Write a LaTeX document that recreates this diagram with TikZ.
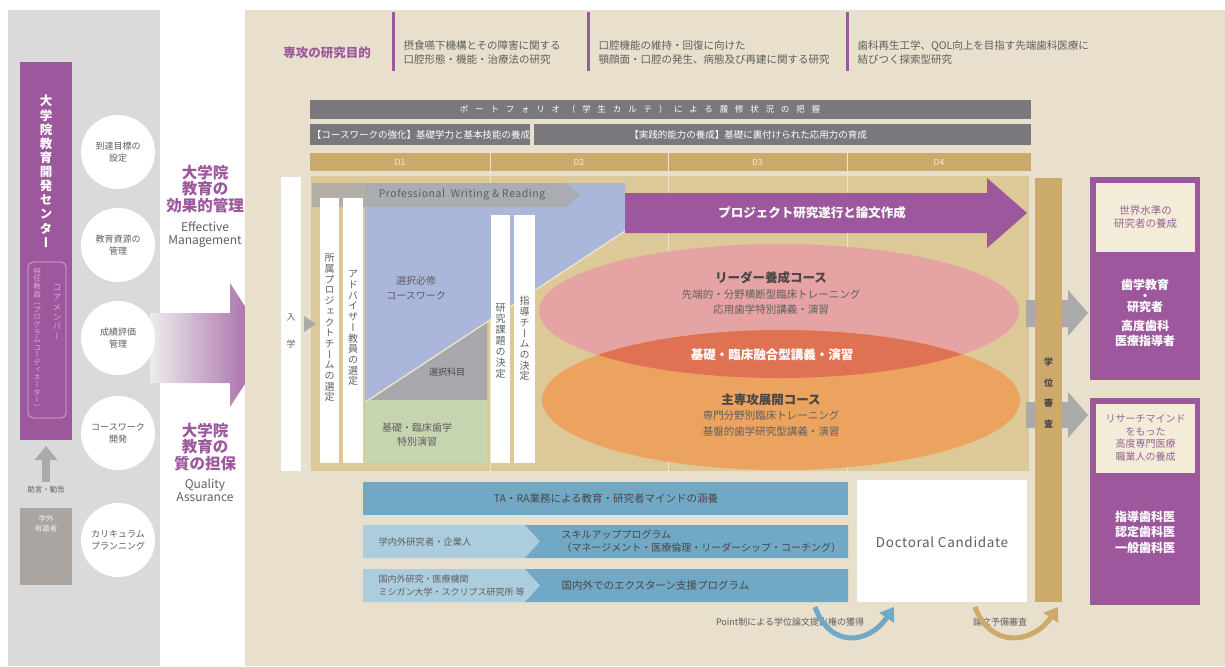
\documentclass[tikz,border=0pt]{standalone}
\usepackage{fontspec}
\setmainfont{Noto Sans CJK JP}
\newfontfamily\jpv{Noto Sans CJK JP}[RawFeature=+vert]
\usetikzlibrary{arrows.meta}
\definecolor{panelgray}{RGB}{218,218,218}
\definecolor{purp}{RGB}{157,88,157}
\definecolor{lpurp}{RGB}{215,175,215}
\definecolor{beige}{RGB}{232,223,204}
\definecolor{dgray}{RGB}{122,120,124}
\definecolor{gold}{RGB}{204,170,108}
\definecolor{itan}{RGB}{221,200,152}
\definecolor{lav}{RGB}{170,182,218}
\definecolor{tri}{RGB}{168,168,172}
\definecolor{sage}{RGB}{198,212,176}
\definecolor{pinkE}{RGB}{229,164,163}
\definecolor{orangeE}{RGB}{236,163,96}
\definecolor{redE}{RGB}{223,114,82}
\definecolor{steel}{RGB}{112,168,197}
\definecolor{lsteel}{RGB}{172,205,222}
\definecolor{agray}{RGB}{170,170,170}
\definecolor{cream}{RGB}{243,236,216}
\definecolor{txt}{RGB}{95,95,95}
\definecolor{dtxt}{RGB}{75,70,70}
\definecolor{extg}{RGB}{170,165,160}
\definecolor{ptxt}{RGB}{150,100,150}
\ExplSyntaxOn
\NewDocumentCommand\vstack{ O{1.1} m }
  {
    \vbox:n
      {
        \offinterlineskip
        \tl_map_inline:nn {#2}
          { \hbox_to_wd:nn {1.2em} { \hss \rule[-0.2em]{0pt}{#1em} ##1 \hss } }
      }
  }
\ExplSyntaxOff
\tikzset{
  blk/.style={inner sep=0pt, outer sep=0pt, draw=none},
  fs/.style 2 args={font=\fontsize{#1}{#2}\selectfont},
  fsb/.style 2 args={font=\fontsize{#1}{#2}\selectfont\bfseries},
  vtext/.style={font=\jpv\fontsize{#1}{#1}\selectfont, inner sep=0pt},
  circ/.style={circle, fill=white, minimum size=74pt, inner sep=0pt, fs={9}{12}, text=txt, align=center},
}
\begin{document}
\begin{tikzpicture}[x=1pt,y=-1pt]
\useasboundingbox (0,0) rectangle (1225,666);
\fill[white] (0,0) rectangle (1225,666);
% ---------- left panel
\fill[panelgray] (8,10) rectangle (160,666);
\node[blk, fill=purp, minimum width=52, minimum height=378] (ctr) at (46,251) {};
\node[vtext=12.5, text=white] (ctrname) at (46,172) {\bfseries\vstack[1.13]{大学院教育開発センター}};
\draw[lpurp, rounded corners=5, line width=0.8] (28,262) rectangle (66,418);
\node[vtext=8.5, text=lpurp] (core) at (57,312) {\vstack[1.15]{コアメンバー}};
\node[vtext=7.5, text=lpurp] (coord) at (37,340) {\vstack[1.0]{特任教員（プログラムコーディネーター）}};
\node[blk, fill=extg, minimum width=52, minimum height=77] (ext) at (46,546.5) {};
\node[fs={7.5}{10}, text=white!85!extg, align=center] (exttxt) at (46,524) {学外\\有識者};
\node[fs={7.5}{9}, text=txt] (advice) at (46,490) {助言・勧告};
\draw[agray, line width=8pt, shorten <=1pt, shorten >=6pt, -{Triangle[width=22pt,length=14pt]}] (advice.north) -- (ctr.south);
% gradient arrow
\shade[left color=panelgray!50!white, right color=purp] (150,313) -- (230,313) -- (230,283) -- (270,345) -- (230,407) -- (230,383) -- (150,383) -- cycle;
\node[circ] (c1) at (118,152) {到達目標の\\設定};
\node[circ] (c2) at (118,245) {教育資源の\\管理};
\node[circ] (c3) at (118,338) {成績評価\\管理};
\node[circ] (c4) at (118,433) {コースワーク\\開発};
\node[circ] (c5) at (118,540) {カリキュラム\\プランニング};
\node[fsb={15.5}{16.5}, text=purp, align=center] (emj) at (205,189) {大学院\\教育の\\効果的管理};
\node[fs={12}{13}, text=txt, align=center] (emen) at (205,235) {Effective\\Management};
\node[fsb={15.5}{16.5}, text=purp, align=center] (qaj) at (205,447) {大学院\\教育の\\質の担保};
\node[fs={12}{13}, text=txt, align=center] (qaen) at (205,490) {Quality\\Assurance};
% ---------- main panel
\fill[beige] (245,10) rectangle (1225,666);
\node[fsb={12.5}{14}, text=purp] (goal) at (327,53) {専攻の研究目的};
\draw[purp, line width=3pt] (393,12) -- (393,71);
\draw[purp, line width=3pt] (588,12) -- (588,71);
\draw[purp, line width=3pt] (847,12) -- (847,71);
\node[fs={10.5}{14}, text=txt, align=left, anchor=west] (g1) at (400,53) {摂食嚥下機構とその障害に関する\\口腔形態・機能・治療法の研究};
\node[fs={10.5}{14}, text=txt, align=left, anchor=west] (g2) at (595,53) {口腔機能の維持・回復に向けた\\顎顔面・口腔の発生、病態及び再建に関する研究};
\node[fs={10.5}{14}, text=txt, align=left, anchor=west] (g3) at (854,53) {歯科再生工学、QOL向上を目指す先端歯科医療に\\結びつく探索型研究};
% bars
\node[blk, fill=dgray, minimum width=721, minimum height=19] (port) at (670.5,109.5) {};
\node[fs={8.5}{9}, text=white] (porttxt) at (640,109.5) {\addfontfeature{LetterSpace=80}ポートフォリオ（学生カルテ）による履修状況の把握};
\node[blk, fill=dgray, minimum width=220, minimum height=21] (cw) at (420,134.5) {};
\node[fs={9.5}{10}, text=white] (cwtxt) at (421,134.5) {【コースワークの強化】基礎学力と基本技能の養成};
\node[blk, fill=dgray, minimum width=497, minimum height=21] (pr) at (782.5,134.5) {};
\node[fs={9.5}{10}, text=white] (prtxt) at (748,134.5) {【実践的能力の養成】基礎に裏付けられた応用力の育成};
\foreach \n/\a/\b in {1/310/490,2/490/668,3/668/847,4/847/1031}
  \node[blk, fill=gold, minimum width={\b-\a}, minimum height=18, fs={8.5}{9}, text=cream] (D\n) at ({(\a+\b)/2},162) {D\n};
\fill[itan] (311,176) rectangle (1029,471);
\foreach \x in {490,668,847} \draw[cream!80!itan, line width=1pt] (\x,153) -- (\x,471);
% entry
\node[blk, fill=white, minimum width=20, minimum height=294] (entry) at (291,324) {};
\node[vtext=9, text=txt] (entrytxt) at (291,322) {\vstack[3.0]{入学}};
\fill[agray] (304,316) -- (316,324) -- (304,332) -- cycle;
% coursework area
\fill[lav] (365,183) -- (625,183) -- (625,231) -- (370,400) -- (365,400) -- cycle;
\fill[tri] (370,400) -- (487,322.5) -- (487,400) -- cycle;
\fill[sage] (365,400) rectangle (487,463);
\draw[cream!80!itan, line width=1.3pt] (367,401) -- (625,231);
\fill[agray, opacity=0.82] (312,183) -- (566,183) -- (580,195) -- (566,207) -- (312,207) -- cycle;
\node[fs={10.5}{11}, text=txt] (pwr) at (462,195) {\addfontfeature{LetterSpace=5}Professional\ \ Writing \& Reading};
\node[blk, fill=white, minimum width=19, minimum height=265] (s1) at (329.5,330.5) {};
\node[vtext=10, text=txt] (s1t) at (329.5,328) {\vstack[1.07]{所属プロジェクトチームの選定}};
\node[blk, fill=white, minimum width=20, minimum height=265] (s2) at (353,330.5) {};
\node[vtext=10, text=txt] (s2t) at (353,328) {\vstack[1.07]{アドバイザー教員の選定}};
\node[blk, fill=white, minimum width=19, minimum height=248] (s3) at (500.5,339) {};
\node[vtext=10, text=txt] (s3t) at (500.5,341) {\vstack[1.1]{研究課題の決定}};
\node[blk, fill=white, minimum width=21, minimum height=248] (s4) at (524.5,339) {};
\node[vtext=10, text=txt] (s4t) at (524.5,339) {\vstack[1.07]{指導チームの決定}};
\node[fs={10}{15}, text=txt, align=center] (req) at (416,288) {選択必修\\コースワーク};
\node[fs={9}{10}, text=dtxt] (elec) at (447,372) {選択科目};
\node[fs={10}{14}, text=txt, align=center] (basic) at (417,435) {基礎・臨床歯学\\特別演習};
% project arrow
\fill[purp] (625,193) -- (987,193) -- (987,178) -- (1027,213) -- (987,248) -- (987,233) -- (625,233) -- cycle;
\node[fsb={12.5}{13}, text=white] (proj) at (812,213) {プロジェクト研究遂行と論文作成};
% ellipses
\fill[pinkE] (779,311) ellipse [x radius=240, y radius=67];
\fill[orangeE] (781,400) ellipse [x radius=239, y radius=70];
\begin{scope}
  \clip (779,311) ellipse [x radius=240, y radius=67];
  \fill[redE] (781,400) ellipse [x radius=239, y radius=70];
\end{scope}
\node[fsb={12.5}{13}, text=dtxt] (lead) at (771,278) {リーダー養成コース};
\node[fs={10.5}{15}, text=txt, align=center] (lead2) at (771,302) {先端的・分野横断型臨床トレーニング\\応用歯学特別講義・演習};
\node[fsb={12.5}{13}, text=white] (fuse) at (772,355) {基礎・臨床融合型講義・演習};
\node[fsb={12.5}{13}, text=dtxt] (major) at (771,400) {主専攻展開コース};
\node[fs={10.5}{16}, text=txt, align=center] (major2) at (771,424) {専門分野別臨床トレーニング\\基盤的歯学研究型講義・演習};
% arrows to outcomes
\fill[agray] (1026,300) -- (1068,300) -- (1068,290) -- (1088,313) -- (1068,336) -- (1068,327) -- (1026,327) -- cycle;
\fill[agray] (1026,402) -- (1068,402) -- (1068,392) -- (1088,415) -- (1068,438) -- (1068,428) -- (1026,428) -- cycle;
\node[blk, fill=gold, minimum width=27, minimum height=424] (review) at (1048.5,390) {};
\node[vtext=9, text=dtxt] (reviewt) at (1048.5,388) {\bfseries\vstack[2.3]{学位審査}};
% outcome boxes
\node[blk, fill=purp, minimum width=110, minimum height=203] (rb1) at (1145,278.5) {};
\node[blk, fill=cream, minimum width=99, minimum height=69] (rb1in) at (1145.5,217.5) {};
\node[fs={10.5}{13}, text=ptxt, align=center] (rb1t) at (1145.5,217) {世界水準の\\研究者の養成};
\node[fsb={12}{12}, text=white, align=center] (rb1a) at (1145,296) {歯学教育\\[-1pt]・\\[-1pt]研究者};
\node[fsb={12}{15}, text=white, align=center] (rb1b) at (1145,333) {高度歯科\\医療指導者};
\node[blk, fill=purp, minimum width=110, minimum height=207] (rb2) at (1145,501.5) {};
\node[blk, fill=cream, minimum width=99, minimum height=69] (rb2in) at (1145.5,438.5) {};
\node[fs={10}{12.5}, text=ptxt, align=center] (rb2t) at (1145.5,438) {リサーチマインド\\をもった\\高度専門医療\\職業人の養成};
\node[fsb={12}{15.5}, text=white, align=center] (rb2a) at (1145,532) {指導歯科医\\認定歯科医\\一般歯科医};
% bottom bars
\node[blk, fill=steel, minimum width=485, minimum height=33] (ta) at (605.5,498.5) {};
\node[fs={10.5}{11}, text=dtxt] (tatxt) at (606,498.5) {TA・RA業務による教育・研究者マインドの涵養};
\fill[lsteel] (363,525) -- (525,525) -- (540,541.5) -- (525,558) -- (363,558) -- cycle;
\fill[steel] (525,525) -- (848,525) -- (848,558) -- (525,558) -- (540,541.5) -- cycle;
\node[fs={9.3}{10}, text=txt, anchor=west] (in1) at (375,541.5) {学内外研究者・企業人};
\node[fs={10}{13}, text=dtxt, align=left, anchor=west] (skill) at (558,541.5) {スキルアッププログラム\\（マネージメント・医療倫理・リーダーシップ・コーチング）};
\fill[lsteel] (363,569) -- (525,569) -- (540,585.5) -- (525,602) -- (363,602) -- cycle;
\fill[steel] (525,569) -- (848,569) -- (848,602) -- (525,602) -- (540,585.5) -- cycle;
\node[fs={9}{12.5}, text=txt, align=left, anchor=west] (in2) at (375,585.5) {国内外研究・医療機関\\ミシガン大学・スクリプス研究所 等};
\node[fs={10.5}{11}, text=dtxt, anchor=west] (extern) at (558,585.5) {国内外でのエクスターン支援プログラム};
\node[blk, fill=white, minimum width=170, minimum height=122] (dc) at (942,541) {};
\node[fs={13.5}{14}, text=txt] (dctxt) at (942,542) {\addfontfeature{LetterSpace=5}Doctoral Candidate};
% bottom curved arrows
\node[fs={9}{10}, text=txt] (pt) at (790,622) {Point制による学位論文提出権の獲得};
\coordinate (pA) at (815,607);
\coordinate (pB) at (894,607);
\draw[steel, line width=5pt, -{Triangle[width=17pt,length=13pt]}] (pA) .. controls (830,648) and (868,645) .. (pB);
\node[fs={9}{10}, text=txt] (prelim) at (1000,622) {論文予備審査};
\coordinate (qA) at (975,607);
\coordinate (qB) at (1058,607);
\draw[gold, line width=5pt, -{Triangle[width=17pt,length=13pt]}] (qA) .. controls (990,648) and (1032,645) .. (qB);
\end{tikzpicture}
\end{document}
